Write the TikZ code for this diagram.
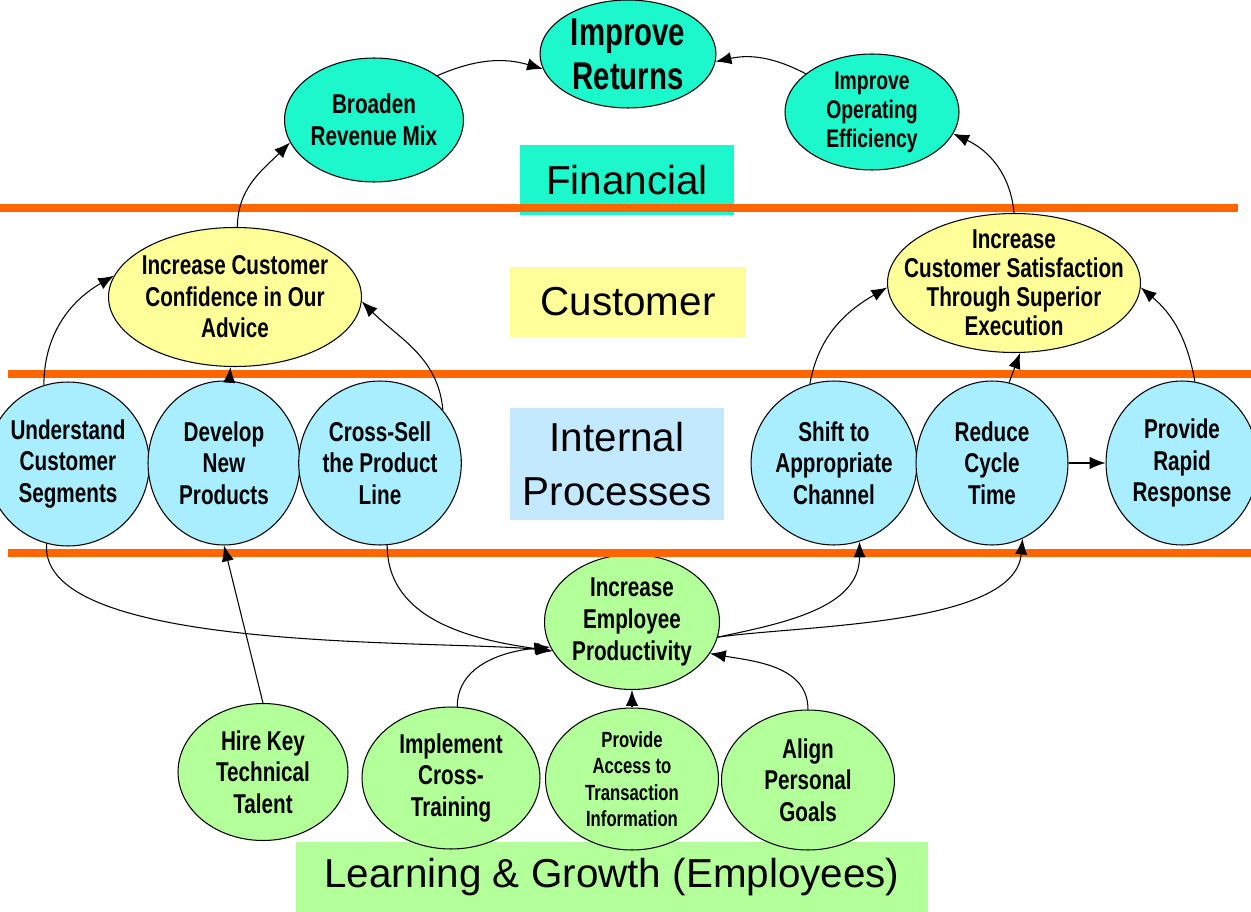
\documentclass[tikz,border=0pt]{standalone}
\usepackage{fontspec}
\setmainfont{Liberation Sans}
\newfontfamily\nodefont[FakeStretch=0.76]{Liberation Sans}
\usetikzlibrary{arrows.meta,shapes.geometric}
\definecolor{fincol}{HTML}{1CF7CB}
\definecolor{custcol}{HTML}{FFFF99}
\definecolor{intcol}{HTML}{A8EEFF}
\definecolor{intlab}{HTML}{C2E9FF}
\definecolor{lgcol}{HTML}{B3FF99}
\definecolor{bandcol}{HTML}{FF6600}

\begin{document}
\begin{tikzpicture}[x=0.02cm,y=-0.02cm,>={Latex[length=9pt,width=7pt]},line width=0.6pt]
  \tikzset{goal/.style={ellipse,draw,inner sep=0pt,align=center,
      font=\nodefont\bfseries\fontsize{15.5}{18}\selectfont},
    fin/.style={goal,fill=fincol},
    cust/.style={goal,fill=custcol,inner xsep=-14pt,inner ysep=-9pt,minimum width=5.06cm,minimum height=2.78cm},
    proc/.style={goal,fill=intcol,minimum width=3.04cm,minimum height=3.28cm},
    growbox/.style={goal,fill=lgcol,minimum width=3.48cm,minimum height=2.8cm},
    persp/.style={inner sep=0pt,align=center,font=\fontsize{23}{31}\selectfont},
    band/.style={draw=bandcol,line width=4.6pt}}
  \useasboundingbox (0,0) rectangle (1251,912);
  \node[persp,fill=fincol,minimum width=4.3cm,minimum height=1.4cm] (finlab) at (627,180) {Financial};
  \node[persp,fill=custcol,minimum width=4.74cm,minimum height=1.4cm] (custlab) at (628,302) {Customer};
  \node[persp,fill=intlab,minimum width=4.3cm,minimum height=2.24cm] (intlab) at (617,464) {Internal\\Processes};
  \node[persp,fill=lgcol,minimum width=12.64cm,minimum height=1.4cm] (lglab) at (612,877) {Learning \& Growth (Employees)};
  \node[fin,minimum width=3.52cm,minimum height=2.16cm,font=\nodefont\bfseries\fontsize{22}{25}\selectfont] (ret) at (628,54) {Improve\\Returns};
  \node[fin,minimum width=3.48cm,minimum height=2.48cm] (brd) at (374,120) {Broaden\\Revenue Mix};
  \node[fin,minimum width=3.48cm,minimum height=2.32cm,font=\nodefont\bfseries\fontsize{14.5}{16.5}\selectfont] (eff) at (872,112) {Improve\\Operating\\Efficiency};
  \node[cust] (conf) at (235,297) {Increase Customer\\Confidence in Our\\Advice};
  \node[cust,font=\nodefont\bfseries\fontsize{15.5}{16.5}\selectfont] (sat) at (1014,283) {Increase\\Customer Satisfaction\\Through Superior\\Execution};
  \node[proc] (und) at (68,464) {Understand\\Customer\\Segments};
  \node[proc] (dev) at (224,463) {Develop\\New\\Products};
  \node[proc] (xsell) at (380,463) {Cross-Sell\\the Product\\Line};
  \node[proc] (shf) at (834,463) {Shift to\\Appropriate\\Channel};
  \node[proc] (red) at (992,463) {Reduce\\Cycle\\Time};
  \node[proc] (rap) at (1182,463) {Provide\\Rapid\\Response};
  \node[growbox,minimum width=3.5cm,minimum height=2.7cm] (prod) at (632,622) {Increase\\Employee\\Productivity};
  \node[growbox,minimum width=3.4cm,minimum height=2.74cm] (hire) at (263,772) {Hire Key\\Technical\\Talent};
  \node[growbox,minimum width=3.56cm,minimum height=2.84cm] (impl) at (451,778) {Implement\\Cross-\\Training};
  \node[growbox,minimum width=3.46cm,minimum height=2.84cm,font=\nodefont\bfseries\fontsize{12.5}{15}\selectfont] (acc) at (632,779) {Provide\\Access to\\Transaction\\Information};
  \node[growbox,minimum width=3.46cm,minimum height=2.8cm] (aln) at (808,780) {Align\\Personal\\Goals};
  \draw[band] (0,208) -- (1238,208);
  \draw[band] (8,374) -- (1251,374);
  \draw[band] (8,553) -- (1251,553);
  \path[->] (brd.35)  edge[bend left=20] (ret.190);
  \path[->] (eff.150) edge[bend right=20] (ret.-5);
  \path[->] (conf.88) edge[out=90,in=225] (brd.195);
  \path[->] (sat.north) edge[out=95,in=-25] (eff.-15);
  \path[->] (und.107) edge[out=90,in=210] (conf.170);
  \path[->] (dev) edge (conf);
  \path[->] (xsell.40) edge[out=95,in=-45] (conf.-2);
  \path[->] (shf.107) edge[out=80,in=210] (sat.182);
  \path[->] (red.78) edge (sat.-85);
  \path[->] (rap.81) edge[out=100,in=-40] (sat.-2);
  \path[->] (red) edge (rap);
  \path[->] (und.-105) edge[out=-95,in=174,looseness=0.55] (prod.200);
  \path[->] (xsell.-85) edge[out=-90,in=172] (prod.200);
  \path[->] (hire.north) edge (dev.south);
  \path[->] (impl.85) edge[out=90,in=185] (prod.197);
  \path[->] (prod.-10) edge[out=12,in=-90] (shf.-72);
  \path[->] (prod.-10) edge[out=8,in=-95,looseness=0.7] (red.-68);
  \path[->] (acc) edge (prod);
  \path[->] (aln.north) edge[out=90,in=-10] (prod.-22);
\end{tikzpicture}
\end{document}
